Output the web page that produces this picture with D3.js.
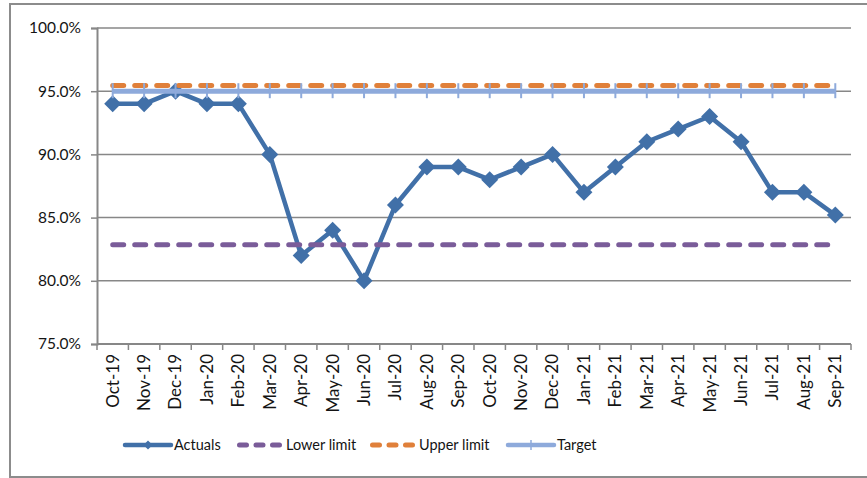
<!DOCTYPE html>
<html>
<head>
<meta charset="utf-8">
<script src="https://cdn.jsdelivr.net/npm/d3@7"></script>
<style>
  html, body { margin: 0; padding: 0; background: #fff; }
  svg { display: block; font-family: Lato, "Open Sans", sans-serif; }
</style>
</head>
<body>
<svg id="chart" width="867" height="478"></svg>
<script>
// Monthly performance vs. control limits and target
const months = ["Oct-19","Nov-19","Dec-19","Jan-20","Feb-20","Mar-20","Apr-20","May-20","Jun-20",
  "Jul-20","Aug-20","Sep-20","Oct-20","Nov-20","Dec-20","Jan-21","Feb-21","Mar-21","Apr-21",
  "May-21","Jun-21","Jul-21","Aug-21","Sep-21"];
const actuals = [94, 94, 95, 94, 94, 90, 82, 84, 80, 86, 89, 89, 88, 89, 90, 87, 89, 91, 92, 93, 91, 87, 87, 85.2];
const lowerLimit = 82.85;
const upperLimit = 95.45;
const target = 95;
const yTicks = [75, 80, 85, 90, 95, 100];
const legendLabels = ["Actuals", "Lower limit", "Upper limit", "Target"];

const colors = {
  actuals: "#4170a8",
  lower: "#7a5c99",
  upper: "#e0803a",
  target: "#8eaadb",
  grid: "#878787",
  text: "#141414"
};

const svg = d3.select("#chart");

// outer chart frame
svg.append("rect")
  .attr("x", 10).attr("y", 4)
  .attr("width", 870).attr("height", 473)
  .attr("fill", "none").attr("stroke", "#8c8c8c").attr("stroke-width", 2);

const plot = { left: 97, right: 851, top: 28, bottom: 344 };

const x = d3.scaleBand().domain(months).range([plot.left, plot.right]);
const cx = m => x(m) + x.bandwidth() / 2;
const y = d3.scaleLinear().domain([75, 100]).range([plot.bottom, plot.top]);

// horizontal gridlines
svg.append("g").selectAll("line")
  .data(yTicks.slice(1))
  .join("line")
  .attr("x1", plot.left).attr("x2", plot.right)
  .attr("y1", d => y(d)).attr("y2", d => y(d))
  .attr("stroke", colors.grid).attr("stroke-width", 1.5);

// y axis
const yAxis = svg.append("g")
  .attr("transform", `translate(${plot.left},0)`)
  .call(d3.axisLeft(y).tickValues(yTicks).tickSize(6).tickPadding(10)
    .tickFormat(d => d.toFixed(1) + "%"));
yAxis.select(".domain").attr("stroke", colors.grid).attr("stroke-width", 2);
yAxis.selectAll(".tick line").attr("stroke", colors.grid).attr("stroke-width", 1.5);
yAxis.selectAll(".tick text")
  .attr("font-size", 15.5).attr("fill", colors.text)
  .attr("font-family", "Lato, sans-serif");

// x axis: ticks sit on category boundaries
const xAxisG = svg.append("g").attr("transform", `translate(0,${plot.bottom})`);
xAxisG.append("line")
  .attr("x1", plot.left).attr("x2", plot.right)
  .attr("stroke", colors.grid).attr("stroke-width", 2);
const bounds = months.map(m => x(m)).concat([plot.right]);
xAxisG.selectAll("line.tk")
  .data(bounds)
  .join("line")
  .attr("class", "tk")
  .attr("x1", d => d).attr("x2", d => d)
  .attr("y1", 0).attr("y2", 6)
  .attr("stroke", colors.grid).attr("stroke-width", 1.5);
xAxisG.selectAll("text")
  .data(months)
  .join("text")
  .attr("transform", m => `translate(${cx(m)},10) rotate(-90)`)
  .attr("text-anchor", "end")
  .attr("dy", "0.35em")
  .attr("font-size", 17)
  .attr("fill", colors.text)
  .text(m => m);

const xFirst = cx(months[0]);
const xLast = cx(months[months.length - 1]);

// Actuals series
const diamond = r => `M0,${-r}L${r},0L0,${r}L${-r},0Z`;
const line = d3.line().x((d, i) => cx(months[i])).y(d => y(d));
svg.append("path")
  .datum(actuals)
  .attr("d", line)
  .attr("fill", "none")
  .attr("stroke", colors.actuals)
  .attr("stroke-width", 4.5)
  .attr("stroke-linejoin", "round");
svg.append("g").selectAll("path")
  .data(actuals)
  .join("path")
  .attr("transform", (d, i) => `translate(${cx(months[i])},${y(d)})`)
  .attr("d", diamond(8.5))
  .attr("fill", colors.actuals);

// control limits
function limitLine(value, color) {
  svg.append("line")
    .attr("x1", xFirst).attr("x2", xLast)
    .attr("y1", y(value)).attr("y2", y(value))
    .attr("stroke", color).attr("stroke-width", 5)
    .attr("stroke-linecap", "round")
    .attr("stroke-dasharray", "11,11");
}
limitLine(lowerLimit, colors.lower);
limitLine(upperLimit, colors.upper);

// target series with tick markers
svg.append("line")
  .attr("x1", xFirst).attr("x2", xLast)
  .attr("y1", y(target)).attr("y2", y(target))
  .attr("stroke", colors.target).attr("stroke-width", 5);
svg.append("g").selectAll("line")
  .data(months)
  .join("line")
  .attr("x1", m => cx(m)).attr("x2", m => cx(m))
  .attr("y1", y(target) - 8).attr("y2", y(target) + 7)
  .attr("stroke", colors.target).attr("stroke-width", 2);

// legend
const ly = 445;
const lg = svg.append("g");
const legendItems = [
  { x: 125, label: legendLabels[0], color: colors.actuals, kind: "marker-diamond" },
  { x: 237, label: legendLabels[1], color: colors.lower, kind: "dash" },
  { x: 370, label: legendLabels[2], color: colors.upper, kind: "dash" },
  { x: 508, label: legendLabels[3], color: colors.target, kind: "marker-tick" }
];
const swatchW = 46;
legendItems.forEach(it => {
  if (it.kind === "dash") {
    lg.append("line")
      .attr("x1", it.x + 2.5).attr("x2", it.x + swatchW - 2.5)
      .attr("y1", ly).attr("y2", ly)
      .attr("stroke", it.color).attr("stroke-width", 5)
      .attr("stroke-linecap", "round")
      .attr("stroke-dasharray", "7,9.5");
  } else {
    lg.append("line")
      .attr("x1", it.x).attr("x2", it.x + swatchW)
      .attr("y1", ly).attr("y2", ly)
      .attr("stroke", it.color).attr("stroke-width", 4.5)
      .attr("stroke-linecap", "round");
    if (it.kind === "marker-diamond") {
      lg.append("path")
        .attr("transform", `translate(${it.x + swatchW / 2},${ly})`)
        .attr("d", diamond(4.5))
        .attr("fill", it.color);
    } else {
      lg.append("line")
        .attr("x1", it.x + swatchW / 2).attr("x2", it.x + swatchW / 2)
        .attr("y1", ly - 5).attr("y2", ly + 5)
        .attr("stroke", it.color).attr("stroke-width", 1.5);
    }
  }
  lg.append("text")
    .attr("x", it.x + swatchW + 3)
    .attr("y", ly)
    .attr("dy", "0.35em")
    .attr("font-size", 14.5)
    .attr("fill", colors.text)
    .text(it.label);
});
</script>
</body>
</html>
